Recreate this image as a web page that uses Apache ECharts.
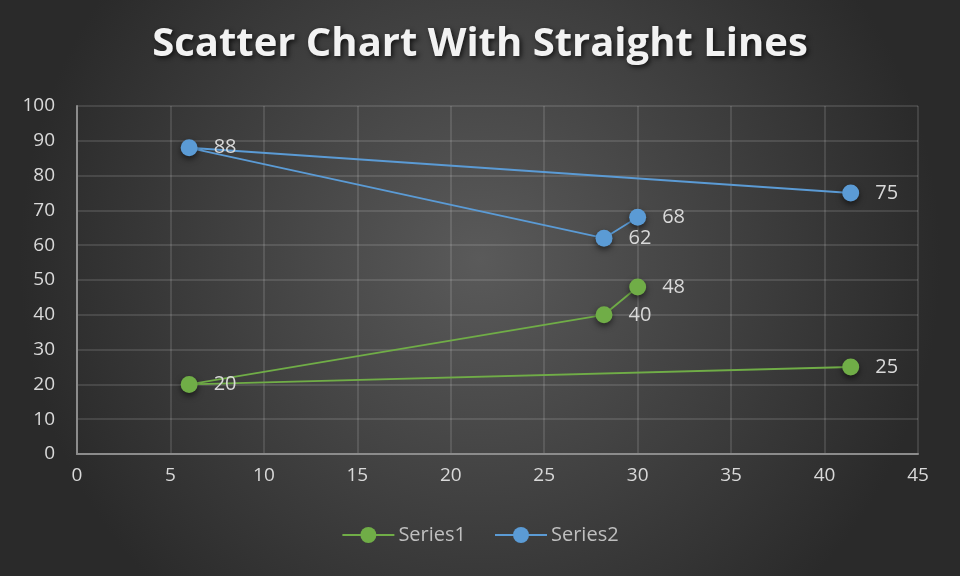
<!DOCTYPE html>
<html>
<head>
<meta charset="utf-8">
<script src="https://cdn.jsdelivr.net/npm/echarts@6/dist/echarts.min.js"></script>
<style>html,body{margin:0;padding:0;}#c{width:960px;height:576px;}</style>
</head>
<body>
<div id="c"></div>
<script>
const xTicks = [0,5,10,15,20,25,30,35,40,45];
const yTicks = [0,10,20,30,40,50,60,70,80,90,100];
const series1X = [41.4, 6.0, 28.2, 30.0];
const series1Y = [25, 20, 40, 48];
const series2X = [41.4, 6.0, 28.2, 30.0];
const series2Y = [75, 88, 62, 68];
const seriesNames = ['Series1','Series2'];

const chart = echarts.init(document.getElementById('c'));
const font = 'Open Sans';
function mk(name, xs, ys, color){
  return {
    name: name, type: 'line',
    data: xs.map((x,i)=>[x, ys[i]]),
    symbol: 'circle', symbolSize: 17,
    lineStyle: {color: color, width: 1.8},
    itemStyle: {color: color, shadowColor: 'rgba(0,0,0,0.55)', shadowBlur: 6, shadowOffsetY: 3},
    label: {show: true, position: 'right', distance: 16, color: '#d9d9d9', fontSize: 20, fontFamily: font,
      formatter: p => p.value[1]},
    emphasis: {disabled: true}
  };
}
chart.setOption({
  animation: false,
  backgroundColor: {
    type: 'radial', x: 0.5, y: 0.45, r: 0.8,
    colorStops: [{offset: 0, color: '#5a5a5a'}, {offset: 1, color: '#2a2a2a'}]
  },
  title: {
    text: 'Scatter Chart With Straight Lines', left: 'center', top: 20,
    textStyle: {color: '#f2f2f2', fontSize: 40, fontWeight: 'bold', fontFamily: font,
      textShadowColor: 'rgba(0,0,0,0.7)', textShadowBlur: 5, textShadowOffsetX: 2, textShadowOffsetY: 2}
  },
  legend: {
    bottom: 26, left: 'center', itemGap: 28, itemWidth: 52, itemHeight: 20,
    data: seriesNames,
    textStyle: {color: '#bfbfbf', fontSize: 20, fontFamily: font, padding: [0,0,0,-1]}
  },
  grid: {left: 77, right: 42, top: 106, bottom: 122},
  xAxis: {
    type: 'value', min: xTicks[0], max: xTicks[xTicks.length-1], interval: 5,
    axisLine: {lineStyle: {color: '#8c8c8c', width: 2}},
    axisTick: {show: false},
    axisLabel: {color: '#d9d9d9', fontSize: 19, fontFamily: font, margin: 12},
    splitLine: {show: true, lineStyle: {color: 'rgba(255,255,255,0.16)', width: 1.5}}
  },
  yAxis: {
    type: 'value', min: yTicks[0], max: yTicks[yTicks.length-1], interval: 10,
    axisLine: {show: true, lineStyle: {color: '#8c8c8c', width: 2}},
    axisTick: {show: false},
    axisLabel: {color: '#d9d9d9', fontSize: 19, fontFamily: font, margin: 22},
    splitLine: {show: true, lineStyle: {color: 'rgba(255,255,255,0.16)', width: 1.5}}
  },
  series: [
    mk(seriesNames[0], series1X, series1Y, '#70ad47'),
    mk(seriesNames[1], series2X, series2Y, '#5b9bd5')
  ]
});
</script>
</body>
</html>
